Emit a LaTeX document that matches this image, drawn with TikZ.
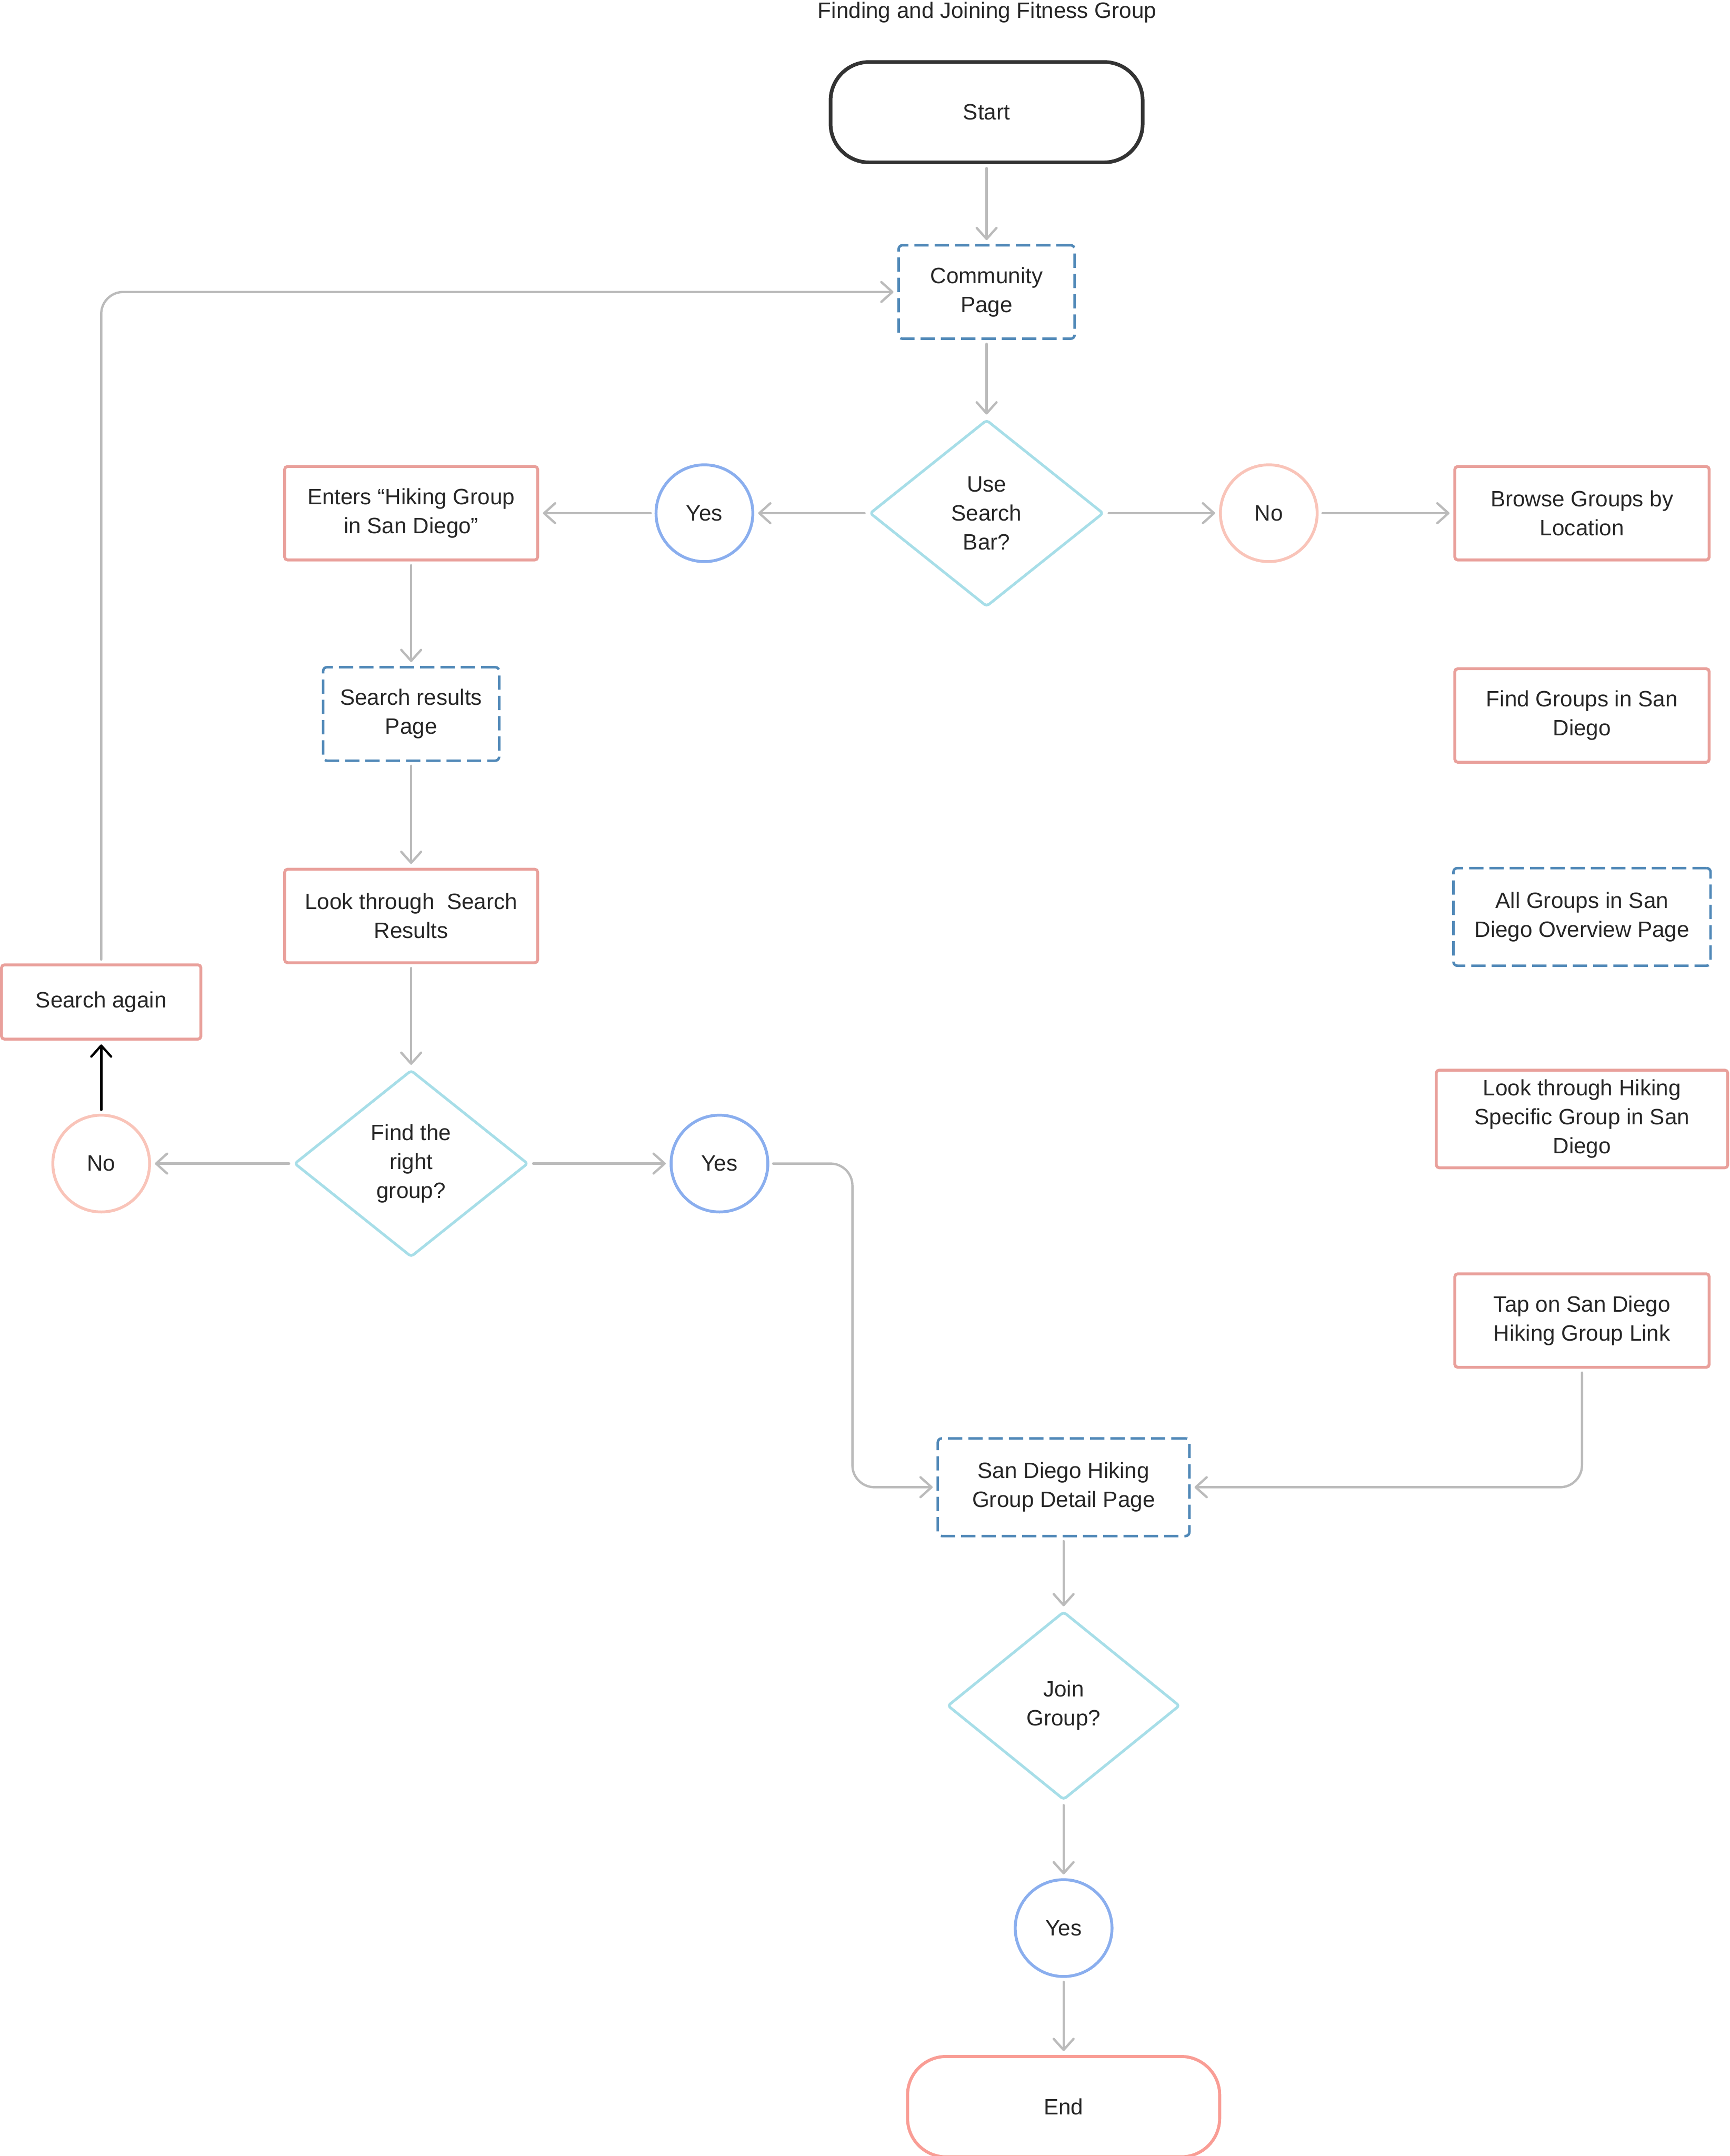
\documentclass[tikz,border=0pt]{standalone}
\usepackage{fontspec}
\setmainfont{Liberation Sans}
\usepackage{xcolor}
\usetikzlibrary{positioning, shapes.geometric, arrows.meta}

\definecolor{ink}{HTML}{262626}
\definecolor{arrowgray}{HTML}{BBBBBB}
\definecolor{boxred}{HTML}{E9A09B}
\definecolor{pageblue}{HTML}{5189B8}
\definecolor{decisioncyan}{HTML}{A7DEE8}
\definecolor{yesblue}{HTML}{8AAEEE}
\definecolor{nopeach}{HTML}{F9C4B9}
\definecolor{startdark}{HTML}{333333}
\definecolor{endsalmon}{HTML}{F99D95}

\begin{document}
\begin{tikzpicture}[
    every node/.style={font=\fontsize{11.5}{15}\selectfont, text=ink, align=center},
    action/.style={draw=boxred, line width=1.5pt, rounded corners=1.5pt, minimum width=4.6cm, minimum height=1.7cm, inner sep=2pt},
    page/.style={draw=pageblue, line width=1.3pt, dash pattern=on 7.4pt off 3.1pt, rounded corners=2pt, minimum width=3.2cm, minimum height=1.7cm, inner sep=2pt},
    decision/.style={draw=decisioncyan, line width=1.4pt, diamond, rounded corners=1.5pt, minimum width=4.25cm, minimum height=3.4cm, inner sep=0pt},
    yesnode/.style={draw=yesblue, circle, line width=1.5pt, minimum size=1.76cm, inner sep=0pt},
    nonode/.style={draw=nopeach, circle, line width=1.5pt, minimum size=1.76cm, inner sep=0pt},
    terminal/.style={rounded corners=0.7cm, line width=1.9pt, minimum width=5.675cm, minimum height=1.825cm},
    arr/.style={draw=arrowgray, line width=1.2pt, line cap=round, -{Straight Barb[length=0.2cm, width=0.36cm, round]}, shorten >=2pt, shorten <=2pt}
  ]
  \useasboundingbox (0,0) rectangle (31.45,-39.2);

  % main column
  \node[anchor=north, inner sep=0pt] (title) at (17.95,-0.03) {Finding and Joining Fitness Group};
  \node[terminal, draw=startdark] (start) at (17.94,-2.04) {Start};
  \node[page, below=1.45cm of start] (community) {Community\\Page};
  \node[decision, below=1.425cm of community] (usebar) {Use\\Search\\Bar?};

  % search branch
  \node[yesnode, left=2.075cm of usebar] (yes1) {Yes};
  \node[action, left=2.1cm of yes1] (enters) {Enters “Hiking Group\\in San Diego”};
  \node[page, below=1.9cm of enters] (results) {Search results\\Page};
  \node[action, below=1.925cm of results] (looksearch) {Look through\ \ Search\\Results};
  \node[decision, below=1.9cm of looksearch] (rightgroup) {Find the\\right\\group?};
  \node[nonode, left=2.58cm of rightgroup] (no2) {No};
  \node[action, above=1.33cm of no2, minimum width=3.625cm, minimum height=1.35cm] (again) {Search again};
  \node[yesnode, right=2.55cm of rightgroup] (yes2) {Yes};

  % browse branch
  \node[nonode, right=2.075cm of usebar] (no1) {No};
  \node[action, right=2.45cm of no1, minimum width=4.625cm] (browse) {Browse Groups by\\Location};
  \node[action, below=1.925cm of browse, minimum width=4.625cm] (findsd) {Find Groups in San\\Diego};
  \node[page, below=1.875cm of findsd, minimum width=4.675cm, minimum height=1.775cm] (allgroups) {All Groups in San\\Diego Overview Page};
  \node[action, below=1.85cm of allgroups, minimum width=5.3cm, minimum height=1.775cm] (lookhiking) {Look through Hiking\\Specific Group in San\\Diego};
  \node[action, below=1.875cm of lookhiking, minimum width=4.625cm] (tap) {Tap on San Diego\\Hiking Group Link};

  % joining
  \node[page, minimum width=4.575cm, minimum height=1.775cm] (detail) at (19.34,-27.04) {San Diego Hiking\\Group Detail Page};
  \node[decision, below=1.325cm of detail, minimum width=4.225cm, minimum height=3.425cm] (join) {Join\\Group?};
  \node[yesnode, below=1.4cm of join] (yes3) {Yes};
  \node[terminal, draw=endsalmon, line width=1.6pt, below=1.4cm of yes3] (end) {End};

  \path[arr]
    (start) edge (community)
    (community) edge (usebar)
    (usebar) edge (yes1)
    (yes1) edge (enters)
    (usebar) edge (no1)
    (no1) edge (browse)
    (enters) edge (results)
    (results) edge (looksearch)
    (looksearch) edge (rightgroup)
    (rightgroup) edge (no2)
    (rightgroup) edge (yes2)
    (detail) edge (join)
    (join) edge (yes3)
    (yes3) edge (end);

  \draw[arr, draw=black] (no2) -- (again);
  \draw[arr, rounded corners=0.4cm] (again.north) |- (community.west);
  \draw[arr, rounded corners=0.4cm] (yes2.east) -| ([xshift=-1.53cm]detail.west) -- (detail.west);
  \draw[arr, rounded corners=0.4cm] (tap.south) |- (detail.east);
\end{tikzpicture}
\end{document}
